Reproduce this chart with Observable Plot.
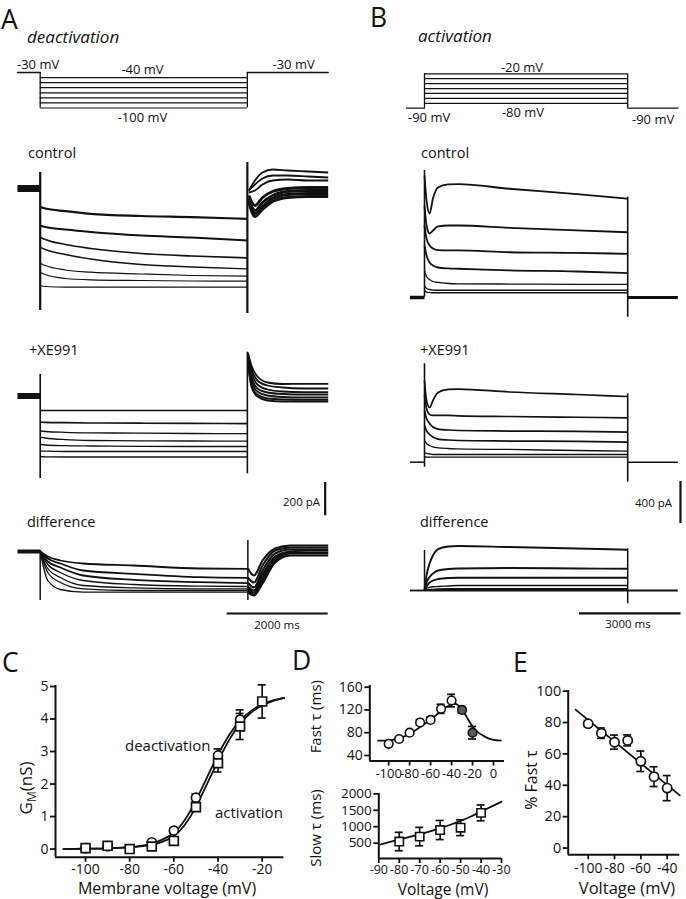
<!DOCTYPE html>
<html><head><meta charset="utf-8">
<script src="https://cdn.jsdelivr.net/npm/d3@7"></script>
<script src="https://cdn.jsdelivr.net/npm/@observablehq/plot@0.6"></script>
<style>
html,body{margin:0;padding:0;background:#fff;}
#fig{position:relative;width:686px;height:899px;overflow:hidden;background:#fff;}
#fig svg{position:absolute;left:0;top:0;}
</style></head><body><div id="fig"></div><script>
// ================= DATA =================
// ---- Panel A (deactivation): times in ms, currents in pA relative to holding current ----
const aProtoHold = -30;
const aProtoLevels = [-40, -50, -60, -70, -80, -90, -100];
const aProtoTimes = [-450, 0, 4100, 5700];
const aPreTimes = [-450, 0];
const aBase = [0, 0];
const aStepTimes = [0, 100, 500, 1000, 2000, 3000, 4100];
const aCtrlStep = [
  [-112, -120, -136, -152, -165, -172, -182],
  [-222, -231, -246, -261, -282, -294, -312],
  [-292, -306, -336, -360, -390, -405, -416],
  [-352, -366, -396, -423, -456, -471, -482],
  [-448, -462, -489, -502, -513, -522, -526],
  [-502, -516, -540, -548, -552, -555, -556],
  [-582, -588, -592, -592, -592, -592, -592]
];
const aCtrlTailTimes = [4130, 4250, 4400, 4600, 4900, 5300, 5700];
const aCtrlTail = [
  [-12, 48, 96, 114, 108, 102, 96],
  [-12, 24, 60, 78, 78, 72, 66],
  [-24, -12, 24, 48, 54, 48, 48],
  [-42, -102, -54, -18, 0, 6, 6],
  [-60, -132, -84, -42, -18, -12, -12],
  [-72, -150, -108, -60, -36, -30, -30],
  [-84, -168, -126, -78, -54, -48, -48]
];
const aCtrlSpikes = [[0, 96, -732], [4100, 156, -750]];
const aXeStep = [
  [-87, -87, -87, -87, -87, -87, -87],
  [-157, -158, -160, -162, -163, -164, -166],
  [-210, -213, -218, -221, -223, -225, -226],
  [-247, -252, -262, -267, -269, -270, -271],
  [-291, -294, -298, -300, -302, -303, -303],
  [-330, -331, -333, -333, -333, -333, -333],
  [-363, -365, -366, -366, -366, -366, -366]
];
const aXeTailTimes = [4110, 4180, 4300, 4500, 4800, 5200, 5700];
const aXeTail = [
  [261, 183, 117, 81, 72, 73, 73],
  [249, 165, 93, 63, 51, 45, 45],
  [237, 141, 69, 39, 27, 23, 23],
  [225, 117, 45, 21, 12, 9, 9],
  [213, 93, 27, 3, -6, -9, -9],
  [201, 69, 9, -15, -21, -23, -23],
  [189, 57, -3, -27, -33, -33, -33]
];
const aXeSpikes = [[0, 129, -495], [4100, 263, -467]];
const aDiffStepTimes = [0, 150, 400, 850, 1850, 3150, 4100];
const aDiffStep = [
  [0, -30, -54, -72, -84, -102, -104],
  [0, -42, -72, -114, -134, -154, -158],
  [0, -60, -96, -144, -170, -184, -190],
  [0, -78, -126, -174, -198, -208, -210],
  [0, -102, -156, -204, -218, -224, -224],
  [0, -126, -186, -224, -234, -234, -234],
  [0, -174, -228, -244, -244, -244, -244]
];
const aDiffTailTimes = [4110, 4230, 4400, 4650, 4950, 5300, 5700];
const aDiffTail = [
  [-102, -144, -54, 18, 36, 36, 36],
  [-156, -186, -84, 6, 24, 24, 24],
  [-186, -216, -114, -12, 12, 12, 12],
  [-210, -234, -138, -30, 0, 6, 6],
  [-222, -246, -156, -42, -6, -6, -6],
  [-234, -258, -174, -54, -12, -12, -12],
  [-246, -264, -192, -66, -24, -24, -24]
];
const aDiffSpikes = [[0, 6, -294], [4110, 66, -294]];
const aBarPA = 200, aBarMs = 2000;

// ---- Panel B (activation) ----
const bProtoHold = -90;
const bProtoLevels = [-20, -30, -40, -50, -60, -70, -80];
const bProtoTimes = [-530, 0, 6000, 7480];
const bPreTimes = [-430, 0];
const bPostTimes = [6000, 7480];
const bBase = [0, 0];
const bStepTimes = [0, 60, 150, 250, 400, 700, 1000, 2500, 4500, 6000];
const bCtrlStep = [
  [1159, 922, 798, 941, 1045, 1074, 1078, 1033, 983, 938],
  [874, 684, 608, 637, 675, 684, 684, 662, 637, 620],
  [684, 561, 494, 466, 451, 447, 447, 430, 423, 415],
  [494, 399, 333, 304, 285, 276, 273, 257, 247, 231],
  [257, 200, 171, 152, 143, 133, 130, 128, 124, 124],
  [114, 86, 76, 71, 69, 69, 69, 69, 69, 69],
  [67, 52, 48, 45, 45, 45, 45, 45, 45, 45]
];
const bCtrlSpikes = [[0, 1206, 3], [6000, 953, -187]];
const bXeStep = [
  [776, 586, 520, 586, 662, 691, 695, 667, 643, 624],
  [634, 510, 453, 444, 444, 444, 441, 434, 427, 422],
  [491, 415, 368, 334, 315, 306, 301, 296, 292, 285],
  [349, 301, 263, 239, 220, 211, 206, 201, 197, 190],
  [206, 178, 159, 146, 137, 130, 127, 121, 111, 105],
  [92, 83, 78, 73, 73, 73, 73, 73, 73, 73],
  [54, 49, 48, 48, 48, 48, 48, 48, 48, 48]
];
const bXeSpikes = [[0, 935, -48], [6000, 650, -190]];
const bDiffStep = [
  [0, 143, 257, 333, 394, 418, 423, 413, 399, 387],
  [0, 76, 128, 162, 190, 204, 209, 214, 209, 206],
  [0, 38, 76, 95, 109, 119, 121, 121, 121, 121],
  [0, 19, 29, 35, 38, 43, 48, 48, 48, 48],
  [0, 5, 10, 11, 14, 16, 16, 16, 16, 16],
  [0, 0, 5, 7, 7, 7, 7, 7, 7, 7],
  [0, 0, -3, -3, -3, -3, -3, -3, -3, -3]
];
const bDiffSpikes = [[0, 380, 0], [6000, 396, -126]];
const bBarPA = 400, bBarMs = 3000;

// ---- Panel C: G_M (nS) vs membrane voltage ----
const cVolt = [-100, -90, -80, -70, -60, -50, -40, -30, -20];
const cDeact = [0.03, 0.09, null, 0.21, 0.57, 1.58, 2.88, 3.98, null];
const cDeactErr = [0.05, 0.05, null, 0.05, 0.07, 0.12, 0.2, 0.3, null];
const cAct = [0.03, 0.1, 0.0, 0.08, 0.25, 1.29, 2.64, 3.77, 4.54];
const cActErr = [0.05, 0.05, 0.05, 0.06, 0.08, 0.1, 0.27, 0.4, 0.51];
const cFitVolt = [-110, -100, -90, -80, -75, -70, -65, -60, -55, -50, -45, -40, -35, -30, -25, -20, -15, -10];
const cFitDeact = [0, 0.01, 0.02, 0.06, 0.1, 0.17, 0.3, 0.5, 0.9, 1.5, 2.2, 2.9, 3.5, 3.95, 4.25, 4.45, 4.57, 4.65];
const cFitAct = [0, 0.01, 0.02, 0.05, 0.08, 0.13, 0.23, 0.4, 0.75, 1.3, 2.0, 2.7, 3.35, 3.85, 4.2, 4.42, 4.56, 4.65];
const cXTicks = [-100, -80, -60, -40, -20];
const cYTicks = [0, 1, 2, 3, 4, 5];

// ---- Panel D: fast and slow time constants ----
const dFastVolt = [-100, -90, -80, -70, -60, -50, -40, -30, -20];
const dFast = [60.5, 69, 80, 98, 102.5, 122, 136.5, 120, 80];
const dFastErr = [3, 3, 3, 5, 5, 8, 11, 5, 11];
const dFastFilled = [false, false, false, false, false, false, false, true, true];
const dFastFitVolt = [-110, -100, -90, -80, -70, -60, -50, -45, -40, -35, -30, -25, -20, -15, -10, -5, 0, 7];
const dFastFit = [66, 66.5, 70, 78, 90, 103, 118, 125, 130, 130, 121, 106, 91, 81, 75, 70, 67.5, 66];
const dFastXTicks = [-100, -80, -60, -40, -20, 0];
const dFastYTicks = [40, 80, 120, 160];
const dSlowVolt = [-80, -70, -60, -50, -40];
const dSlow = [550, 700, 900, 970, 1420];
const dSlowErr = [280, 280, 290, 240, 240];
const dSlowFitVolt = [-89, -85, -80, -75, -70, -65, -60, -55, -50, -45, -40, -35, -30];
const dSlowFit = [460, 530, 610, 690, 770, 860, 955, 1060, 1180, 1310, 1460, 1610, 1760];
const dSlowXTicks = [-90, -80, -70, -60, -50, -40, -30];
const dSlowYTicks = [500, 1000, 1500, 2000];

// ---- Panel E: % fast tau ----
const eVolt = [-100, -90, -80, -70, -60, -50, -40];
const eFast = [79.2, 73.2, 67.5, 68.6, 55.3, 45.5, 38.2];
const eErr = [2, 3.3, 4.5, 3.5, 6.5, 6.3, 8];
const eFitVolt = [-109.6, -30.4];
const eFit = [88.2, 33.6];
const eXTicks = [-100, -80, -60, -40];
const eYTicks = [0, 20, 40, 60, 80, 100];

// ================= LAYOUT / DRAWING =================
const W = 686, H = 899;
const FONT = "'Open Sans', 'Noto Sans', sans-serif";
const INK = "#111";
const fig = document.getElementById("fig");
const fmt = d => String(d);

function layer(opts) {
  const svg = Plot.plot({
    width: W, height: H,
    marginLeft: 0, marginRight: 0, marginTop: 0, marginBottom: 0,
    ...opts,
    style: {background: "transparent", fontFamily: FONT, fontSize: "14px", color: INK, overflow: "visible"}
  });
  fig.appendChild(svg);
}
const pts = (xs, ys) => xs.map((x, i) => ({x, y: ys[i]})).filter(d => d.y != null);
const trace = (xs, ys, w) => Plot.line(pts(xs, ys), {x: "x", y: "y", stroke: INK, strokeWidth: w, curve: "monotone-x", strokeLinejoin: "round", strokeLinecap: "butt"});
const spikes = (rows, w) => Plot.ruleX(rows.map(([t, hi, lo]) => ({t, hi, lo})), {x: "t", y1: "hi", y2: "lo", stroke: INK, strokeWidth: w});

// time axes (ms -> px) for the two recording columns
const aX = {domain: [-450, 5700], range: [16.96, 327.7], axis: null};
const bX = {domain: [-530, 7500], range: [406.05, 678.0], axis: null};
function tracePanel(xs, pAperPx, y0, marks) {
  layer({x: xs, y: {domain: [0, -100 * pAperPx], range: [y0, y0 + 100], axis: null}, marks});
}
const stepW = [2.2, 2, 1.6, 1.4, 1.2, 1.2, 1.2];

// --- protocols ---
layer({
  x: aX, y: {domain: [-30, -100], range: [72, 107.5], axis: null},
  marks: [
    Plot.line(pts([aProtoTimes[0], aProtoTimes[1]], [aProtoHold, aProtoHold]), {x: "x", y: "y", stroke: INK, strokeWidth: 1.3}),
    Plot.line(pts([aProtoTimes[2], aProtoTimes[3]], [aProtoHold, aProtoHold]), {x: "x", y: "y", stroke: INK, strokeWidth: 1.3}),
    Plot.ruleY(aProtoLevels, {x1: aProtoTimes[1], x2: aProtoTimes[2], stroke: INK, strokeWidth: 1.2}),
    Plot.ruleX([aProtoTimes[1], aProtoTimes[2]], {y1: aProtoHold, y2: d3.min(aProtoLevels), stroke: INK, strokeWidth: 1.3})
  ]
});
layer({
  x: bX, y: {domain: [-20, -90], range: [73.3, 107.7], axis: null},
  marks: [
    Plot.line(pts([bProtoTimes[0], bProtoTimes[1]], [bProtoHold, bProtoHold]), {x: "x", y: "y", stroke: INK, strokeWidth: 1.3}),
    Plot.line(pts([bProtoTimes[2], bProtoTimes[3]], [bProtoHold, bProtoHold]), {x: "x", y: "y", stroke: INK, strokeWidth: 1.3}),
    Plot.ruleY(bProtoLevels, {x1: bProtoTimes[1], x2: bProtoTimes[2], stroke: INK, strokeWidth: 1.2}),
    Plot.ruleX([bProtoTimes[1], bProtoTimes[2]], {y1: bProtoHold, y2: d3.max(bProtoLevels), stroke: INK, strokeWidth: 1.3})
  ]
});

// --- A traces ---
tracePanel(aX, 6, 188, [
  trace(aPreTimes, aBase, 7),
  ...aCtrlStep.map((v, k) => trace(aStepTimes, v, stepW[k])),
  ...aCtrlTail.map((v, k) => trace(aCtrlTailTimes, v, k < 3 ? 1.8 : 2.8)),
  spikes(aCtrlSpikes, 2.2)
]);
tracePanel(aX, 6, 395.5, [
  trace(aPreTimes, aBase, 6),
  ...aXeStep.map((v, k) => trace(aStepTimes, v, k < 2 ? 1.6 : 1.3)),
  ...aXeTail.map(v => trace(aXeTailTimes, v, 1.8)),
  spikes(aXeSpikes, 1.6),
  Plot.ruleX([5640], {y1: -519, y2: -519 - aBarPA, stroke: INK, strokeWidth: 2.2})
]);
tracePanel(aX, 6, 551, [
  trace(aPreTimes, aBase, 4),
  ...aDiffStep.map((v, k) => trace(aDiffStepTimes, v, k < 3 ? 1.8 : 1.3)),
  ...aDiffTail.map(v => trace(aDiffTailTimes, v, 2)),
  spikes(aDiffSpikes, 1.5),
  Plot.ruleY([-372], {x1: aX.domain[1] - aBarMs, x2: aX.domain[1], stroke: INK, strokeWidth: 2.2})
]);

// --- B traces ---
tracePanel(bX, 9.5, 297, [
  trace(bPreTimes, bBase, 3.5),
  trace(bPostTimes, bBase, 3),
  ...bCtrlStep.map((v, k) => trace(bStepTimes, v, k < 4 ? 1.8 : 1.3)),
  spikes(bCtrlSpikes, 1.6)
]);
tracePanel(bX, 9.5, 461.7, [
  trace(bPreTimes, bBase, 1.5),
  trace(bPostTimes, bBase, 1.5),
  ...bXeStep.map((v, k) => trace(bStepTimes, v, k < 4 ? 1.7 : 1.3)),
  spikes(bXeSpikes, 1.6),
  Plot.ruleX([7558], {y1: -183, y2: -183 - bBarPA, stroke: INK, strokeWidth: 2.2})
]);
tracePanel(bX, 9.5, 590, [
  trace(bPreTimes, bBase, 1.8),
  trace(bPostTimes, bBase, 1.8),
  ...bDiffStep.map((v, k) => trace(bStepTimes, v, k < 3 ? 1.9 : 1.4)),
  spikes(bDiffSpikes, 1.5),
  Plot.ruleY([-218], {x1: 7576 - bBarMs, x2: 7576, stroke: INK, strokeWidth: 2.2})
]);

// --- scatter panels ---
function errorBars(xs, ys, es, cap) {
  const d = xs.map((x, i) => ys[i] == null || es[i] == null ? null : {x, lo: ys[i] - es[i], hi: ys[i] + es[i]}).filter(Boolean);
  const o = {stroke: INK, strokeWidth: 1.7};
  return [
    Plot.ruleX(d, {x: "x", y1: "lo", y2: "hi", ...o}),
    Plot.ruleY(d, {y: "lo", x1: "x", x2: "x", insetLeft: -cap, insetRight: -cap, ...o}),
    Plot.ruleY(d, {y: "hi", x1: "x", x2: "x", insetLeft: -cap, insetRight: -cap, ...o})
  ];
}
function axes(xd, yd, xt, yt, fs, xfs = fs, xpad = 3) {
  const o = {tickSize: 5, tickFormat: fmt, strokeWidth: 1.8, label: null, stroke: INK};
  return [
    Plot.ruleX([xd[0]], {stroke: INK, strokeWidth: 2}),
    Plot.ruleY([yd[0]], {stroke: INK, strokeWidth: 2}),
    Plot.axisX({ticks: xt, tickPadding: xpad, fontSize: xfs, ...o}),
    Plot.axisY({ticks: yt, tickPadding: 2, fontSize: fs, ...o})
  ];
}
function frame(l, r, t, b) { return {marginLeft: l, marginRight: W - r, marginTop: t, marginBottom: H - b}; }

// C
const cXd = [-113.6, -10.2], cYd = [-0.25, 5.03];
layer({
  ...frame(55, 283.3, 685, 856.7),
  x: {domain: cXd, axis: null}, y: {domain: cYd, axis: null},
  marks: [
    ...axes(cXd, cYd, cXTicks, cYTicks, 14, 14, 1.5),
    Plot.line(pts(cFitVolt, cFitDeact), {x: "x", y: "y", curve: "natural", stroke: INK, strokeWidth: 1.8}),
    Plot.line(pts(cFitVolt, cFitAct), {x: "x", y: "y", curve: "natural", stroke: INK, strokeWidth: 1.8}),
    ...errorBars(cVolt, cDeact, cDeactErr, 4),
    ...errorBars(cVolt, cAct, cActErr, 4),
    Plot.dot(pts(cVolt, cDeact), {x: "x", y: "y", r: 4.5, fill: "white", stroke: INK, strokeWidth: 1.7}),
    Plot.dot(pts(cVolt, cAct), {x: "x", y: "y", r: 5, symbol: "square", fill: "white", stroke: INK, strokeWidth: 1.7})
  ]
});

// D top
const dfXd = [-118, 10.5], dfYd = [30.3, 163];
layer({
  ...frame(369.3, 504, 685, 760.5),
  x: {domain: dfXd, axis: null}, y: {domain: dfYd, axis: null},
  marks: [
    ...axes(dfXd, dfYd, dFastXTicks, dFastYTicks, 14, 13),
    Plot.line(pts(dFastFitVolt, dFastFit), {x: "x", y: "y", curve: "natural", stroke: INK, strokeWidth: 1.8}),
    ...errorBars(dFastVolt, dFast, dFastErr, 4),
    Plot.dot(dFastVolt.map((x, i) => ({x, y: dFast[i], f: dFastFilled[i]})), {x: "x", y: "y", r: 4.3, fill: d => d.f ? "#5a5a5a" : "white", stroke: INK, strokeWidth: 1.6})
  ]
});
// D bottom
const dsXd = [-90, -30], dsYd = [34, 2010];
layer({
  ...frame(378.3, 501, 793, 858),
  x: {domain: dsXd, axis: null}, y: {domain: dsYd, axis: null},
  marks: [
    ...axes(dsXd, dsYd, dSlowXTicks, dSlowYTicks, 13.5, 12.5, 1.5),
    Plot.line(pts(dSlowFitVolt, dSlowFit), {x: "x", y: "y", curve: "natural", stroke: INK, strokeWidth: 1.8}),
    ...errorBars(dSlowVolt, dSlow, dSlowErr, 4),
    Plot.dot(pts(dSlowVolt, dSlow), {x: "x", y: "y", r: 4.7, symbol: "square", fill: "white", stroke: INK, strokeWidth: 1.6})
  ]
});
// E
const eXd = [-115.2, -30.4], eYd = [-4.3, 100.4];
layer({
  ...frame(567.7, 679.3, 690, 854.3),
  x: {domain: eXd, axis: null}, y: {domain: eYd, axis: null},
  marks: [
    ...axes(eXd, eYd, eXTicks, eYTicks, 14.5, 14),
    Plot.line(pts(eFitVolt, eFit), {x: "x", y: "y", stroke: INK, strokeWidth: 1.8}),
    ...errorBars(eVolt, eFast, eErr, 4),
    Plot.dot(pts(eVolt, eFast), {x: "x", y: "y", r: 4.6, fill: "white", stroke: INK, strokeWidth: 1.7})
  ]
});

// ================= TEXT ANNOTATIONS =================
const labels = [
  ["A", 1, 28.5, 26.5], ["deactivation", 27, 43, 17, "start", true],
  ["B", 370, 27, 26.5], ["activation", 418, 41.5, 17, "start", true],
  ["-30 mV", 17, 69, 13], ["-40 mV", 142.5, 74, 13, "middle"], ["-100 mV", 142.5, 122, 13, "middle"], ["-30 mV", 272.5, 69, 13],
  ["-20 mV", 522, 71.5, 13, "middle"], ["-80 mV", 523, 116.5, 13, "middle"], ["-90 mV", 408, 121.5, 13], ["-90 mV", 632, 123.5, 13],
  ["control", 28, 158, 14.5], ["control", 421, 157.5, 14.5],
  ["+XE991", 29, 355, 14.5], ["+XE991", 420, 355, 14.5],
  ["difference", 27, 527, 14.5], ["difference", 420, 527, 14.5],
  ["200 pA", 283, 506, 11.5], ["400 pA", 635, 506.5, 11.5],
  ["2000 ms", 277, 629, 11.5, "middle"], ["3000 ms", 628, 628, 11.5, "middle"],
  ["C", 2, 672, 26.5], ["D", 292, 670, 26.5], ["E", 513, 672, 26.5],
  ["deactivation", 125, 751, 15], ["activation", 215, 818, 15],
  ["Membrane voltage (mV)", 167, 894, 16, "middle"],
  ["Voltage (mV)", 443, 894.5, 15.5, "middle"], ["Voltage (mV)", 627, 894, 16.5, "middle"]
];
const ann = d3.select(fig).append("svg").attr("width", W).attr("height", H)
  .attr("font-family", FONT).attr("fill", INK);
for (const [t, x, y, s, anchor = "start", it = false] of labels) {
  ann.append("text").attr("x", x).attr("y", y).attr("font-size", s).attr("text-anchor", anchor)
    .attr("font-style", it ? "italic" : null).text(t);
}
const rot = [["Fast τ (ms)", 320.5, 716.7, 15], ["Slow τ (ms)", 320.5, 828, 15], ["% Fast τ", 537.3, 780, 16]];
for (const [t, x, y, s] of rot) {
  ann.append("text").attr("transform", `translate(${x},${y}) rotate(-90)`).attr("font-size", s).attr("text-anchor", "middle").text(t);
}
const gm = ann.append("text").attr("transform", "translate(31.5,788) rotate(-90)").attr("font-size", 17).attr("text-anchor", "middle");
gm.append("tspan").text("G");
gm.append("tspan").attr("font-size", 12).attr("dy", 4).text("M");
gm.append("tspan").attr("dy", -4).text("(nS)");
</script></body></html>
